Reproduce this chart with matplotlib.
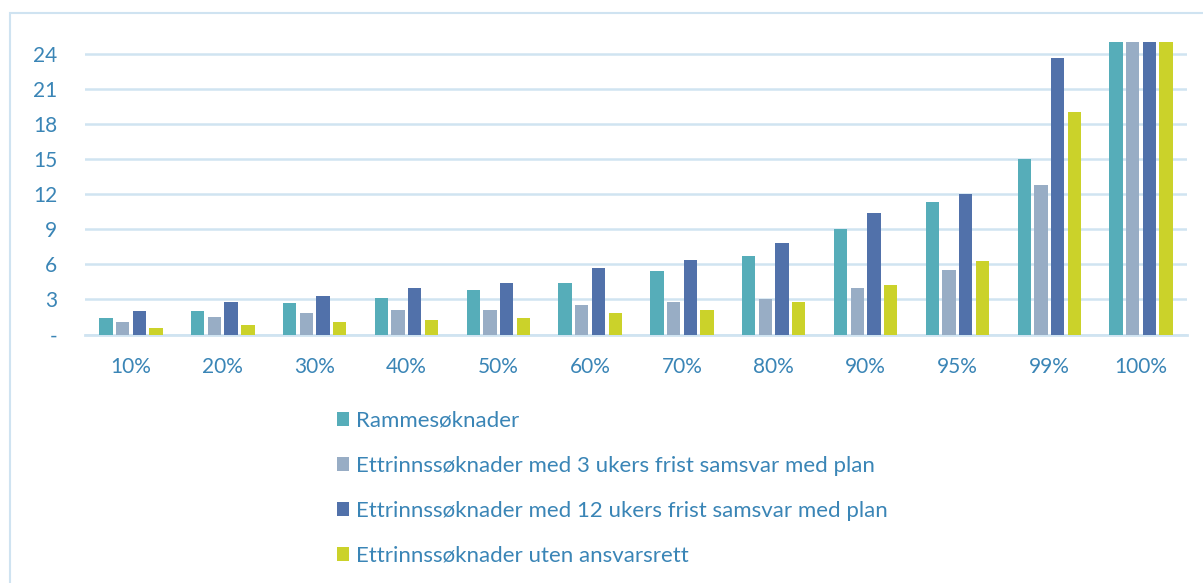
import numpy as np
import matplotlib
matplotlib.use("Agg")
import matplotlib.pyplot as plt
from matplotlib.patches import Rectangle

plt.rcParams['font.family'] = ['Lato', 'DejaVu Sans']

# Data
categories = ['10%', '20%', '30%', '40%', '50%', '60%',
              '70%', '80%', '90%', '95%', '99%', '100%']

series_names = [
    'Rammesøknader',
    'Ettrinnssøknader med 3 ukers frist samsvar med plan',
    'Ettrinnssøknader med 12 ukers frist samsvar med plan',
    'Ettrinnssøknader uten ansvarsrett',
]

ramme = [1.4, 2.0, 2.7, 3.1, 3.8, 4.4, 5.4, 6.7, 9.0, 11.3, 15.0, 30]
ettr_3 = [1.1, 1.5, 1.8, 2.1, 2.1, 2.5, 2.8, 3.0, 4.0, 5.5, 12.8, 30]
ettr_12 = [2.0, 2.8, 3.25, 4.0, 4.4, 5.65, 6.4, 7.8, 10.35, 12.05, 23.65, 30]
uten = [0.6, 0.8, 1.1, 1.25, 1.4, 1.8, 2.1, 2.8, 4.25, 6.25, 19.05, 30]

yticks = [0, 3, 6, 9, 12, 15, 18, 21, 24]
ytick_labels = ['-', '3', '6', '9', '12', '15', '18', '21', '24']

colors = ['#56adb9', '#98adc5', '#5171aa', '#cbd22a']
text_color = '#3a85b6'
grid_color = '#d0e4f1'

fig = plt.figure(figsize=(12.03, 5.83), dpi=100)
ax = fig.add_axes([0.0707, 0.4262, 0.916, 0.5018])

# outer frame
fig.patches.append(Rectangle((10 / 1203, -0.1), 1.2, (583 - 13) / 583 + 0.1,
                             transform=fig.transFigure, fill=False,
                             edgecolor='#cfe3f1', linewidth=1.5))

x = np.arange(len(categories))
width = 0.145
step = 0.182
all_series = [ramme, ettr_3, ettr_12, uten]
for i, (vals, name, col) in enumerate(zip(all_series, series_names, colors)):
    ax.bar(x + (i - 1.5) * step, vals, width, color=col, label=name, zorder=3)

ax.set_ylim(0, 25)
ax.set_xlim(-0.5, len(categories) - 0.5)
ax.set_yticks(yticks)
ax.set_yticklabels(ytick_labels)
ax.set_xticks(x)
ax.set_xticklabels(categories)
ax.yaxis.grid(True, color=grid_color, linewidth=1.8, zorder=0)
ax.tick_params(length=0, labelsize=15, labelcolor=text_color)
ax.tick_params(axis='y', pad=20)
ax.tick_params(axis='x', pad=16.5)
for side in ['top', 'right', 'left']:
    ax.spines[side].set_visible(False)
ax.spines['bottom'].set_color(grid_color)
ax.spines['bottom'].set_linewidth(2)

fig.legend(loc='upper left', bbox_to_anchor=(337 / 1203, (583 - 410.5) / 583),
           frameon=False, fontsize=16, labelcolor=text_color,
           handlelength=0.55, handleheight=0.6, handletextpad=0.3,
           labelspacing=1.13, borderaxespad=0, borderpad=0)

fig.savefig('out.png', dpi=100)
